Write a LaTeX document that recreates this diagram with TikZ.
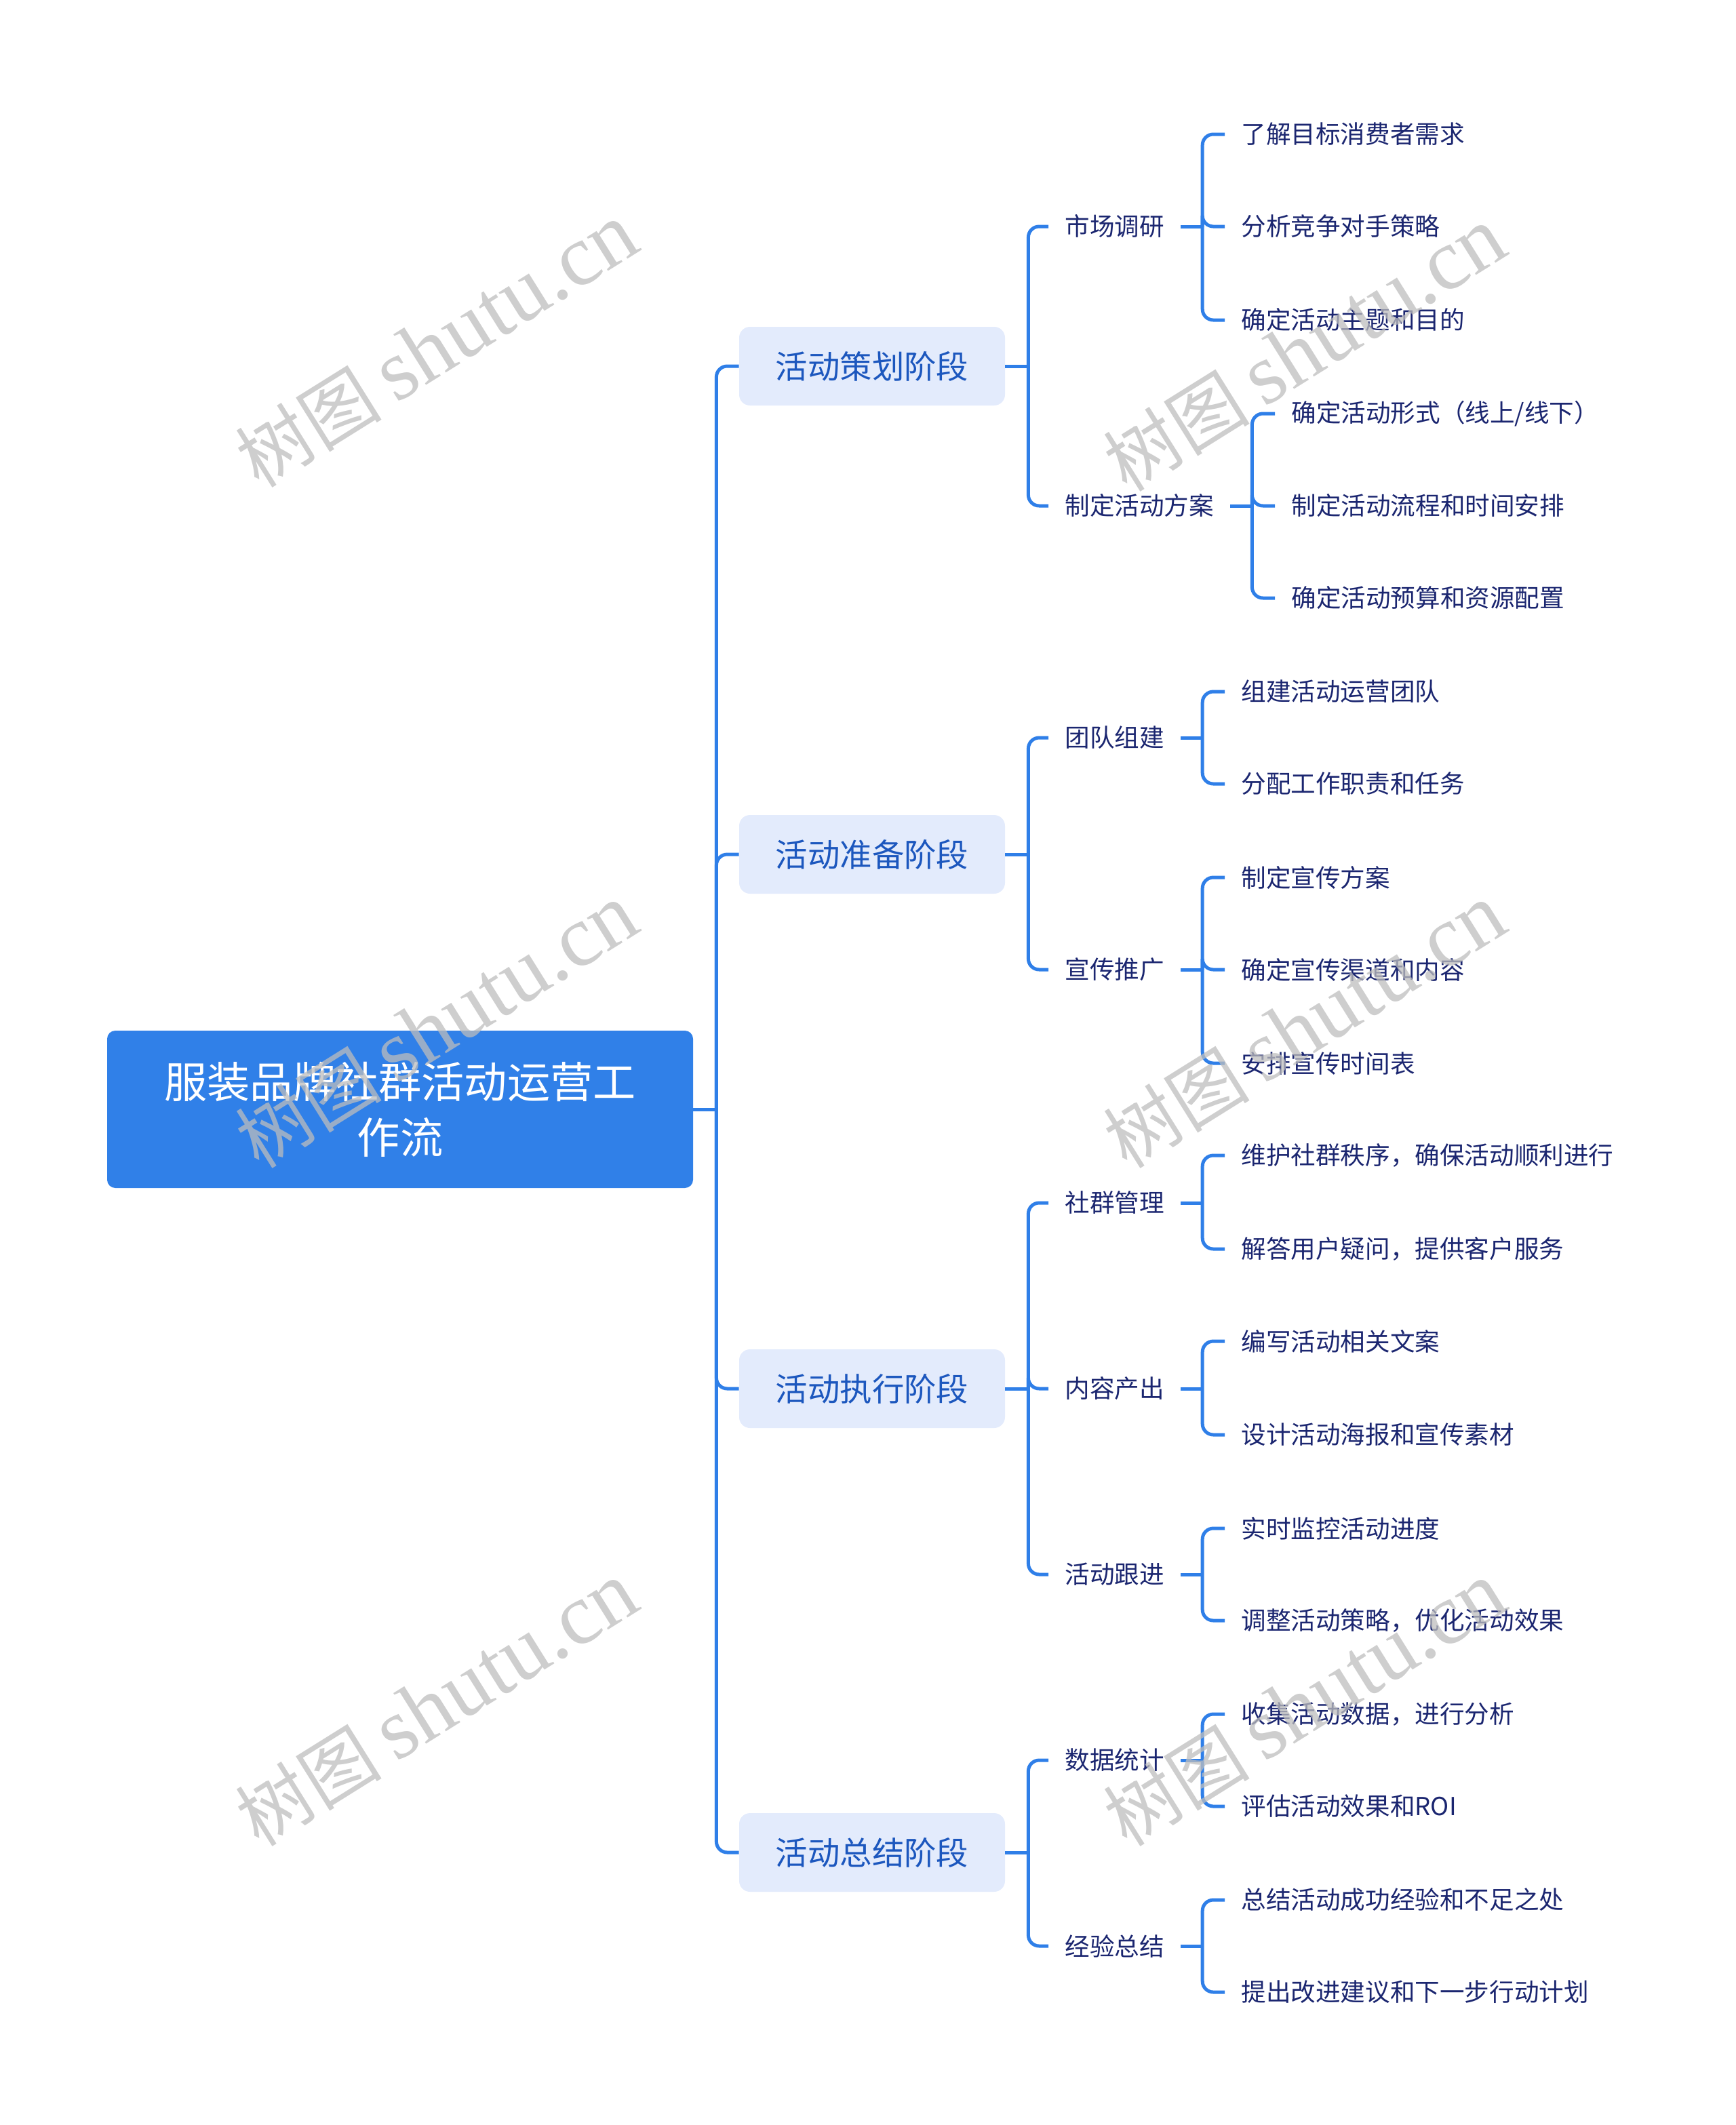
\documentclass[tikz,border=0pt]{standalone}
\usepackage{fontspec}
\newfontfamily\cjk{Noto Sans CJK SC}
\newfontfamily\wmlatin{Liberation Serif}
\definecolor{lineblue}{HTML}{2F7FE8}
\definecolor{rootblue}{HTML}{3080E8}
\definecolor{lonefill}{HTML}{E3EBFC}
\definecolor{lonetext}{HTML}{1C57BE}
\definecolor{navy}{HTML}{1B2670}
\definecolor{wmgray}{HTML}{BDBDBD}
\begin{document}
\begin{tikzpicture}[x=1pt,y=-1pt,
  rootbox/.style={fill=rootblue, rounded corners=6pt, minimum width=432pt, minimum height=116pt,
    inner sep=0pt, text=white, align=center, font=\cjk\fontsize{31.6}{41}\selectfont},
  lonebox/.style={fill=lonefill, rounded corners=8pt, minimum width=196pt, minimum height=58pt,
    inner sep=0pt, text=lonetext, font=\cjk\fontsize{23.7}{28}\selectfont},
  ltwo/.style={anchor=west, inner xsep=12pt, inner ysep=2pt, text=navy, font=\cjk\fontsize{18.3}{22}\selectfont},
  lthree/.style={anchor=west, inner xsep=12pt, inner ysep=2pt, text=navy, font=\cjk\fontsize{18.3}{22}\selectfont},
  conn/.style={draw=lineblue, line width=2.5pt, rounded corners=8pt},
  wmark/.style={rotate=32, text=wmgray, opacity=0.75, inner sep=0pt}
]
\useasboundingbox (0,0) rectangle (1280,1567);

% root
\node[rootbox] (root) at (295,818) {服装品牌社群活动运营工\\作流};

% level 1
\node[lonebox] (a) at (643,270) {活动策划阶段};
\node[lonebox] (b) at (643,630) {活动准备阶段};
\node[lonebox] (c) at (643,1024) {活动执行阶段};
\node[lonebox] (d) at (643,1366) {活动总结阶段};

% level 2
\node[ltwo] (a1) at (773,167) {市场调研};
\node[ltwo] (a2) at (773,373) {制定活动方案};
\node[ltwo] (b1) at (773,544) {团队组建};
\node[ltwo] (b2) at (773,715) {宣传推广};
\node[ltwo] (c1) at (773,887) {社群管理};
\node[ltwo] (c2) at (773,1024) {内容产出};
\node[ltwo] (c3) at (773,1161) {活动跟进};
\node[ltwo] (d1) at (773,1298) {数据统计};
\node[ltwo] (d2) at (773,1435) {经验总结};

% level 3
\node[lthree] (a11) at (903,99) {了解目标消费者需求};
\node[lthree] (a12) at (903,167) {分析竞争对手策略};
\node[lthree] (a13) at (903,236) {确定活动主题和目的};
\node[lthree] (a21) at (940,305) {确定活动形式（线上/线下）};
\node[lthree] (a22) at (940,373) {制定活动流程和时间安排};
\node[lthree] (a23) at (940,441) {确定活动预算和资源配置};
\node[lthree] (b11) at (903,510) {组建活动运营团队};
\node[lthree] (b12) at (903,578) {分配工作职责和任务};
\node[lthree] (b21) at (903,647) {制定宣传方案};
\node[lthree] (b22) at (903,715) {确定宣传渠道和内容};
\node[lthree] (b23) at (903,784) {安排宣传时间表};
\node[lthree] (c11) at (903,852) {维护社群秩序，确保活动顺利进行};
\node[lthree] (c12) at (903,921) {解答用户疑问，提供客户服务};
\node[lthree] (c21) at (903,989) {编写活动相关文案};
\node[lthree] (c22) at (903,1058) {设计活动海报和宣传素材};
\node[lthree] (c31) at (903,1127) {实时监控活动进度};
\node[lthree] (c32) at (903,1195) {调整活动策略，优化活动效果};
\node[lthree] (d11) at (903,1264) {收集活动数据，进行分析};
\node[lthree] (d12) at (903,1332) {评估活动效果和ROI};
\node[lthree] (d21) at (903,1401) {总结活动成功经验和不足之处};
\node[lthree] (d22) at (903,1469) {提出改进建议和下一步行动计划};

% connectors root -> level 1
\draw[conn] (root.east) -- ++(17,0) coordinate (rt);
\foreach \n in {a,b,c,d} \draw[conn] (rt) |- (\n.west);

% level 1 -> level 2
\draw[conn] (a.east) -- ++(17,0) coordinate (ab);
\foreach \n in {a1,a2} \draw[conn] (ab) |- (\n.west);
\draw[conn] (b.east) -- ++(17,0) coordinate (bb);
\foreach \n in {b1,b2} \draw[conn] (bb) |- (\n.west);
\draw[conn] (c.east) -- ++(17,0) coordinate (cb);
\foreach \n in {c1,c2,c3} \draw[conn] (cb) |- (\n.west);
\draw[conn] (d.east) -- ++(17,0) coordinate (db);
\foreach \n in {d1,d2} \draw[conn] (db) |- (\n.west);

% level 2 -> level 3
\draw[conn] (a1.east) -- ++(16,0) coordinate (a1b);
\foreach \n in {a11,a12,a13} \draw[conn] (a1b) |- (\n.west);
\draw[conn] (a2.east) -- ++(16,0) coordinate (a2b);
\foreach \n in {a21,a22,a23} \draw[conn] (a2b) |- (\n.west);
\draw[conn] (b1.east) -- ++(16,0) coordinate (b1b);
\foreach \n in {b11,b12} \draw[conn] (b1b) |- (\n.west);
\draw[conn] (b2.east) -- ++(16,0) coordinate (b2b);
\foreach \n in {b21,b22,b23} \draw[conn] (b2b) |- (\n.west);
\draw[conn] (c1.east) -- ++(16,0) coordinate (c1b);
\foreach \n in {c11,c12} \draw[conn] (c1b) |- (\n.west);
\draw[conn] (c2.east) -- ++(16,0) coordinate (c2b);
\foreach \n in {c21,c22} \draw[conn] (c2b) |- (\n.west);
\draw[conn] (c3.east) -- ++(16,0) coordinate (c3b);
\foreach \n in {c31,c32} \draw[conn] (c3b) |- (\n.west);
\draw[conn] (d1.east) -- ++(16,0) coordinate (d1b);
\foreach \n in {d11,d12} \draw[conn] (d1b) |- (\n.west);
\draw[conn] (d2.east) -- ++(16,0) coordinate (d2b);
\foreach \n in {d21,d22} \draw[conn] (d2b) |- (\n.west);

% watermarks
\foreach \wx/\wy [count=\i] in {322/255,962/258,322/757,962/757,322/1257,962/1257}
  \node[wmark] (wm\i) at (\wx,\wy) {\cjk\fontsize{54}{54}\selectfont 树图\hspace{11pt}\wmlatin\fontsize{64}{64}\selectfont shutu.cn};
\end{tikzpicture}
\end{document}
